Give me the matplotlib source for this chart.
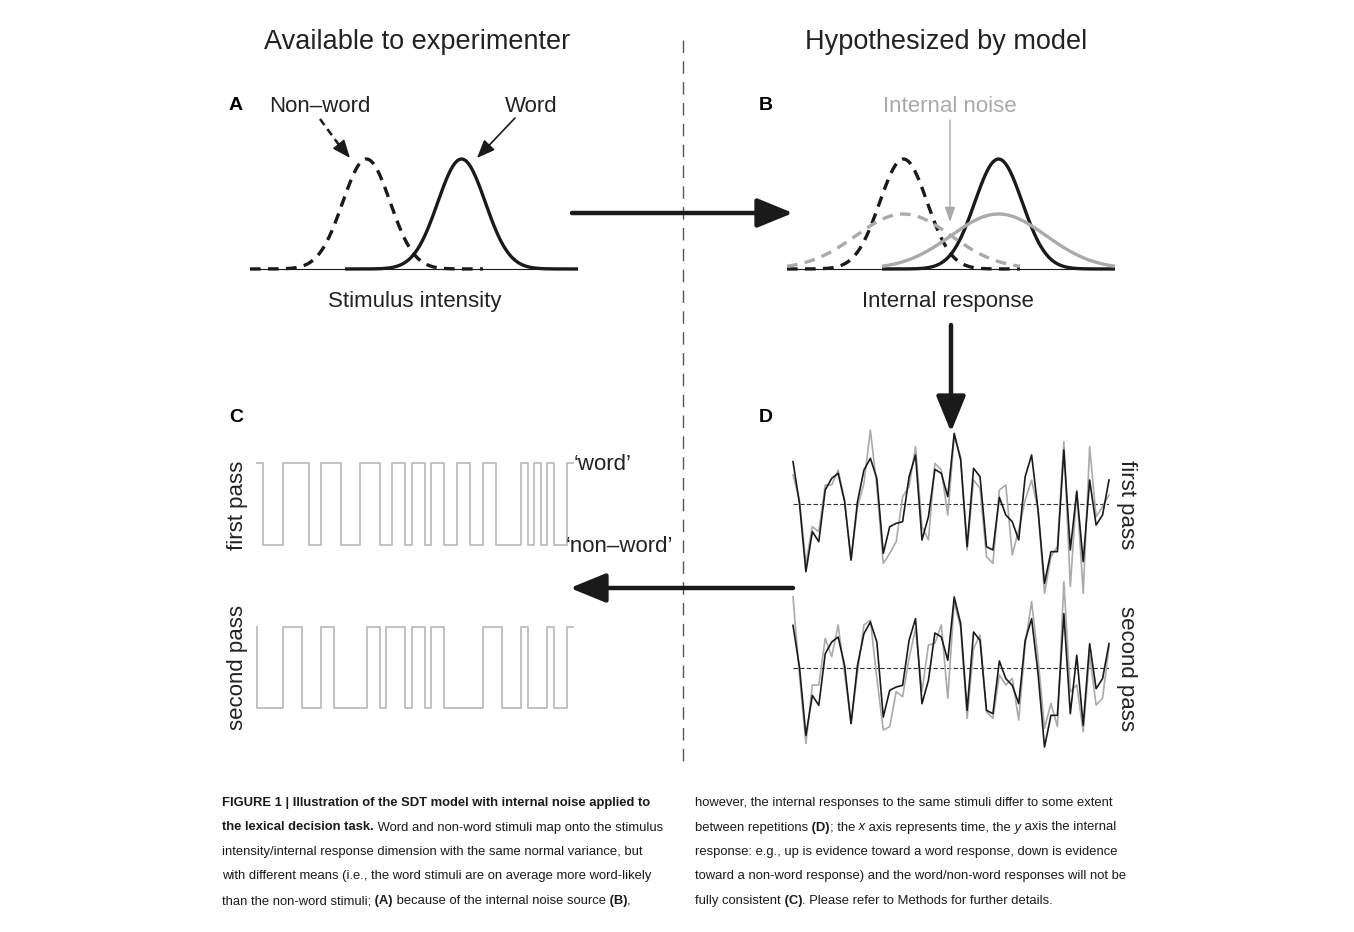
import numpy as np
import matplotlib.pyplot as plt

plt.rcParams['font.family'] = ['Liberation Sans', 'DejaVu Sans']

W, H = 1354, 932

# panels A/B: means and sds of the distributions
nonword_mean, word_mean = -2.0, 2.0
stim_sd = 1.0
internal_sd = 2.0
curve_halfwidth = 4.9

# panel C: response on each trial (1 = 'word', 0 = 'non-word')
first_resp = [1, 1, 0, 0, 0, 1, 1, 1, 1, 0, 0, 1, 1, 1, 0, 0, 0, 1, 1, 1,
              0, 0, 1, 1, 0, 1, 1, 0, 1, 1, 0, 0, 1, 1, 0, 0, 1, 1, 0, 0,
              0, 0, 1, 0, 1, 0, 1, 0, 0, 1]
second_resp = [1, 0, 0, 0, 0, 1, 1, 1, 0, 0, 0, 1, 1, 0, 0, 0, 0, 0, 1, 1,
               0, 1, 1, 1, 0, 1, 1, 0, 1, 1, 0, 0, 0, 0, 0, 0, 1, 1, 1, 0,
               0, 0, 1, 0, 0, 0, 1, 0, 0, 1]

# panel D: stimulus value (black) and internal response (grey) per trial
stimulus = [1.27, 0.02, -2.03, -0.83, -1.13, 0.42, 0.77, 0.92, 0.07, -1.68,
            0.07, 1.02, 1.37, 0.77, -1.48, -0.68, -0.58, -0.53, 0.82, 1.47,
            -1.08, -0.38, 1.04, 0.92, 0.22, 2.12, 1.32, -1.28, 1.07, 0.82,
            -1.28, -1.38, 0.20, -0.33, -0.53, -1.08, 0.82, 1.47, -0.18, -2.38,
            -1.43, -1.43, 1.62, -1.38, 0.37, -1.73, 0.72, -0.63, -0.33, 0.72]
internal_1 = [0.87, 0.12, -1.78, -0.68, -0.83, 0.57, 0.57, 1.02, 0.12, -1.68,
              -0.10, 0.62, 2.22, 0.52, -1.78, -1.48, -1.13, 0.22, 0.52, 1.72,
              -0.68, -1.08, 1.22, 1.02, -0.33, 2.02, 1.42, -1.38, 0.72, 0.47,
              -1.58, -1.78, 0.42, 0.57, -1.53, -0.78, 0.12, 0.72, -0.18, -2.68,
              -1.58, -1.28, 1.87, -2.48, 0.42, -2.68, 1.72, -0.38, -0.08, 0.27]
internal_2 = [2.13, -0.22, -2.27, -0.52, -0.52, 0.88, 0.33, 1.28, -0.17, -1.67,
              -0.14, 1.28, 1.43, -0.32, -1.87, -1.77, -0.72, -0.87, 0.28, 1.18,
              -0.72, 0.68, 0.73, 1.28, -0.92, 1.98, 1.18, -1.52, 0.58, 0.98,
              -1.32, -1.52, -0.22, -0.52, -0.32, -1.57, 0.68, 1.98, 0.28, -1.82,
              -1.07, -1.77, 2.58, -0.72, -0.52, -1.92, 0.38, -1.12, -0.92, 0.63]

BLACK = '#1a1a1a'
GREY = '#aaaaaa'
LIGHT = '#bdbdbd'

fig = plt.figure(figsize=(W / 100, H / 100), dpi=100)


def px_axes(x0, y0, x1, y1):
    ax = fig.add_axes([x0 / W, 1 - y1 / H, (x1 - x0) / W, (y1 - y0) / H])
    ax.axis('off')
    ax.patch.set_alpha(0)
    return ax


def pdf(x, m, s):
    return np.exp(-0.5 * ((x - m) / s) ** 2) / (s * np.sqrt(2 * np.pi))


def draw_dist(ax, m, s, color, dashed):
    x = np.linspace(m - curve_halfwidth, m + curve_halfwidth, 300)
    ls = (0, (3.2, 2.2)) if dashed else '-'
    ax.plot(x, pdf(x, m, s), color=color, lw=2.4, ls=ls, clip_on=False,
            solid_capstyle='butt')


# --- panel A
axA = px_axes(250, 140, 578, 280)
axA.set_xlim(-6.9, 6.9)
axA.set_ylim(-0.04, 0.468)
axA.plot([-6.9, 6.9], [0, 0], color=BLACK, lw=0.8)
draw_dist(axA, nonword_mean, stim_sd, BLACK, True)
draw_dist(axA, word_mean, stim_sd, BLACK, False)

# --- panel B
axB = px_axes(787, 140, 1115, 280)
axB.set_xlim(-6.9, 6.9)
axB.set_ylim(-0.04, 0.468)
axB.plot([-6.9, 6.9], [0, 0], color=BLACK, lw=0.8)
draw_dist(axB, nonword_mean, stim_sd, BLACK, True)
draw_dist(axB, word_mean, stim_sd, BLACK, False)
draw_dist(axB, nonword_mean, internal_sd, GREY, True)
draw_dist(axB, word_mean, internal_sd, GREY, False)

# --- panel C
trials = np.arange(len(first_resp))
for (y0, y1), resp in [((455, 553), first_resp), ((619, 716), second_resp)]:
    ax = px_axes(257, y0, 573, y1)
    ax.set_xlim(0, len(resp) - 1)
    ax.set_ylim(-0.0976, 1.0976)
    ax.step(trials, resp, where='pre', color=LIGHT, lw=1.3, clip_on=False)

# --- panel D
for (y0, y1, lo, hi), resp in [((420, 590, -2.58, 2.52), internal_1),
                                ((585, 755, -2.62, 2.48), internal_2)]:
    ax = px_axes(793, y0, 1109, y1)
    ax.set_xlim(0, len(stimulus) - 1)
    ax.set_ylim(lo, hi)
    ax.axhline(0, color='#333333', lw=0.8, dashes=(4, 2))
    ax.plot(trials, resp, color=GREY, lw=1.2, clip_on=False)
    ax.plot(trials, stimulus, color=BLACK, lw=1.2, clip_on=False)

# --- overlay for text and arrows, in pixel coordinates
ov = fig.add_axes([0, 0, 1, 1])
ov.set_xlim(0, W)
ov.set_ylim(H, 0)
ov.axis('off')
ov.patch.set_alpha(0)

ov.plot([683, 683], [40, 762], color='#555555', lw=1.0, dashes=(9, 6))

ov.text(417, 42, 'Available to experimenter', fontsize=19.5, ha='center', va='center', color='#222222')
ov.text(946, 42, 'Hypothesized by model', fontsize=19.5, ha='center', va='center', color='#222222')

for x, y, s in [(236, 106, 'A'), (766, 106, 'B'), (236, 418, 'C'), (766, 418, 'D')]:
    ov.text(x, y, s, fontsize=14, fontweight='bold', ha='center', va='center')

ov.text(320, 106, 'Non\u2013word', fontsize=16, ha='center', va='center', color='#222222')
ov.text(531, 106, 'Word', fontsize=16, ha='center', va='center', color='#222222')
ov.text(950, 106, 'Internal noise', fontsize=16, ha='center', va='center', color=GREY)
ov.text(415, 302, 'Stimulus intensity', fontsize=16, ha='center', va='center', color='#222222')
ov.text(948, 302, 'Internal response', fontsize=16, ha='center', va='center', color='#222222')

ov.text(574, 465, '\u2018word\u2019', fontsize=16, ha='left', va='center', color='#222222')
ov.text(566, 546, '\u2018non\u2013word\u2019', fontsize=16, ha='left', va='center', color='#222222')
ov.text(238, 505, 'first pass', fontsize=16, rotation=90, ha='center', va='center', color='#222222')
ov.text(238, 668, 'second pass', fontsize=16, rotation=90, ha='center', va='center', color='#222222')
ov.text(1126, 505, 'first pass', fontsize=16, rotation=270, ha='center', va='center', color='#222222')
ov.text(1126, 668, 'second pass', fontsize=16, rotation=270, ha='center', va='center', color='#222222')


def arrow(start, end, color=BLACK, lw=1.2, scale=10, hl=1.1, hw=0.45):
    ov.annotate('', xy=end, xytext=start,
                arrowprops=dict(arrowstyle='-|>,head_length=%s,head_width=%s' % (hl, hw),
                                color=color, lw=lw, mutation_scale=scale,
                                shrinkA=0, shrinkB=0))


# small pointer arrows
ov.plot([320, 342], [119, 149], color=BLACK, lw=1.8, dashes=(3, 2))
arrow((341, 147), (350, 158))
arrow((515, 118), (477, 158))
arrow((950, 120), (950, 222), color=GREY, lw=1.0, scale=9, hl=1.0, hw=0.35)

# big process arrows
arrow((572, 213), (793, 213), lw=3.2, scale=20)
arrow((951, 325), (951, 432), lw=3.2, scale=20)
arrow((793, 588), (570, 588), lw=3.2, scale=20)

# --- caption
renderer = fig.canvas.get_renderer()


def runs(x, y, parts, size=9.4):
    for s, style in parts:
        kw = {}
        if style == 'b':
            kw['fontweight'] = 'bold'
        elif style == 'i':
            kw['fontstyle'] = 'italic'
        t = ov.text(x, y, s, fontsize=size, ha='left', va='baseline', color='#1a1a1a', **kw)
        x += t.get_window_extent(renderer).width


left = [
    [('FIGURE 1 | Illustration of the SDT model with internal noise applied to', 'b')],
    [('the lexical decision task.', 'b'), (' Word and non-word stimuli map onto the stimulus', 'n')],
    [('intensity/internal response dimension with the same normal variance, but', 'n')],
    [('with different means (i.e., the word stimuli are on average more word-likely', 'n')],
    [('than the non-word stimuli;', 'n'), (' (A)', 'b'), (' because of the internal noise source', 'n'),
     (' (B)', 'b'), (',', 'n')],
]
right = [
    [('however, the internal responses to the same stimuli differ to some extent', 'n')],
    [('between repetitions', 'n'), (' (D)', 'b'), ('; the', 'n'), (' x', 'i'),
     (' axis represents time, the', 'n'), (' y', 'i'), (' axis the internal', 'n')],
    [('response: e.g., up is evidence toward a word response, down is evidence', 'n')],
    [('toward a non-word response) and the word/non-word responses will not be', 'n')],
    [('fully consistent', 'n'), (' (C)', 'b'), ('. Please refer to Methods for further details.', 'n')],
]
for i, (lp, rp) in enumerate(zip(left, right)):
    yb = 806 + i * 24.5
    runs(222, yb, lp)
    runs(695, yb, rp)

fig.savefig('out.png', dpi=100)
